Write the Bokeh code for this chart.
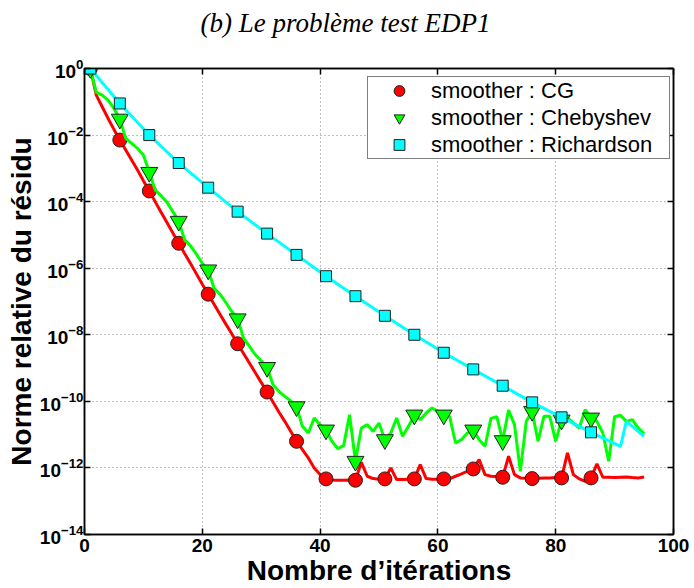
from bokeh.plotting import figure
from bokeh.models import (Range1d, FixedTicker, LinearAxis, LogAxis, Legend,
                          LegendItem)
from bokeh.embed import file_html
from bokeh.resources import INLINE

# ---- data (residuals given as log10 values) ----
iterations = list(range(1, 96))

cg_log10 = [
    0.0, -0.8, -1.15, -1.5, -1.83, -2.15, -2.45, -2.75, -3.05, -3.37,
    -3.68, -4.0, -4.32, -4.63, -4.94, -5.25, -5.56, -5.86, -6.17, -6.48,
    -6.78, -7.08, -7.38, -7.68, -7.97, -8.27, -8.56, -8.85, -9.14, -9.43,
    -9.72, -10.02, -10.32, -10.6, -10.9, -11.2, -11.45, -11.7, -12.0, -12.2,
    -12.33, -12.36, -12.37, -12.37, -12.36, -12.37, -11.83, -12.25, -12.32, -12.34,
    -12.33, -12.0, -12.35, -12.35, -12.34, -12.33, -11.9, -12.32, -12.34, -12.34,
    -12.33, -12.32, -12.25, -12.18, -12.1, -12.03, -11.75, -12.2, -12.25, -12.26,
    -12.28, -11.65, -12.2, -12.3, -12.31, -12.32, -12.31, -12.3, -12.3, -12.29,
    -12.3, -11.55, -12.2, -12.33, -12.4, -12.3, -11.88, -12.28, -12.28, -12.29,
    -12.28, -12.27, -12.29, -12.3, -12.27,
]

cheb_log10 = [
    0.0, -0.72, -0.8, -0.95, -1.2, -1.52, -2.1, -2.25, -2.4, -2.6,
    -3.12, -3.65, -3.82, -4.02, -4.3, -4.59, -5.15, -5.33, -5.58, -5.85,
    -6.05, -6.6, -6.78, -7.03, -7.3, -7.52, -8.1, -8.35, -8.6, -8.78,
    -8.98, -9.5, -9.7, -9.85, -9.98, -10.16, -10.75, -10.95, -10.5, -10.7,
    -10.86, -11.2, -11.42, -11.33, -10.4, -11.8, -10.8, -10.7, -10.9, -10.65,
    -11.15, -10.95, -10.5, -11.05, -10.75, -10.41, -10.55, -10.35, -10.2, -10.3,
    -10.41, -10.46, -11.25, -11.15, -10.95, -10.86, -11.15, -11.35, -10.51, -10.46,
    -11.18, -10.26, -10.7, -12.1, -10.6, -10.3, -11.2, -10.45, -10.45, -11.2,
    -10.56, -10.5, -10.65, -10.8, -10.25, -10.5, -10.6, -10.95, -11.8, -10.46,
    -10.42, -10.6, -10.55, -10.8, -10.97,
]

rich_iters = [1, 6, 11, 16, 21, 26, 31, 36, 41, 46, 51, 56, 61, 66, 71, 76, 81, 86,
              91, 92, 95]
rich_log10 = [0.0, -1.05, -2.0, -2.84, -3.58, -4.3, -4.96, -5.6, -6.24, -6.84,
              -7.43, -8.0, -8.54, -9.04, -9.53, -10.03, -10.48, -10.93,
              -11.35, -10.6, -11.05]

marker_iters = [1, 6, 11, 16, 21, 26, 31, 36, 41, 46, 51, 56, 61, 66, 71, 76, 81, 86]

x_ticks = [0, 20, 40, 60, 80, 100]
y_tick_exps = [0, -2, -4, -6, -8, -10, -12, -14]

labels = ["smoother : CG", "smoother : Chebyshev", "smoother : Richardson"]
colors = ["#ff0000", "#00ff00", "#00ffff"]

# ---- build sources ----
cg_y = [10.0 ** e for e in cg_log10]
cheb_y = [10.0 ** e for e in cheb_log10]
rich_y = [10.0 ** e for e in rich_log10]

def pick(xs, ys, keep):
    pairs = [(x, y) for x, y in zip(xs, ys) if x in keep]
    return [a for a, _ in pairs], [b for _, b in pairs]

cg_mx, cg_my = pick(iterations, cg_y, marker_iters)
ch_mx, ch_my = pick(iterations, cheb_y, marker_iters)
ri_mx, ri_my = pick(rich_iters, rich_y, marker_iters)

y_ticks = [10.0 ** e for e in y_tick_exps]

p = figure(width=694, height=588, y_axis_type="log",
           x_range=Range1d(0, 100), y_range=Range1d(1e-14, 1.0),
           output_backend="svg", toolbar_location=None,
           min_border_left=84, min_border_right=21,
           min_border_top=68, min_border_bottom=51)

p.title.text = "(b) Le problème test EDP1"
p.title.text_font = "Liberation Serif"
p.title.text_font_style = "italic"
p.title.text_font_size = "27px"
p.title.text_color = "#000000"
p.title.align = "left"
p.title.offset = 116

p.outline_line_color = "#000000"
p.outline_line_width = 1.5
p.background_fill_color = "#ffffff"
p.border_fill_color = "#ffffff"

# grid
p.xgrid.ticker = FixedTicker(ticks=x_ticks)
p.ygrid.ticker = FixedTicker(ticks=y_ticks)
for g in (p.xgrid, p.ygrid):
    g.grid_line_color = "#808080"
    g.grid_line_dash = "1 3"
    g.grid_line_width = 1

# axes
xa = p.xaxis[0]
xa.ticker = FixedTicker(ticks=x_ticks)
ya = p.yaxis[0]
ya.ticker = FixedTicker(ticks=y_ticks, minor_ticks=[])
for ax in (xa, ya):
    ax.major_tick_in = 6
    ax.major_tick_out = 0
    ax.minor_tick_in = 0
    ax.minor_tick_out = 0
    ax.axis_line_color = "#000000"
    ax.axis_line_width = 1.5
    ax.major_tick_line_width = 1.5
    ax.major_label_text_font = "Liberation Sans"
    ax.major_label_text_font_style = "bold"
    ax.major_label_text_font_size = "19px"
    ax.major_label_text_color = "#000000"
    ax.axis_label_text_font = "Liberation Sans"
    ax.axis_label_text_font_style = "bold"
    ax.axis_label_text_color = "#000000"
xa.axis_label_text_font_size = "28px"
ya.axis_label_text_font_size = "28px"
xa.axis_label = "Nombre d’itérations"
ya.axis_label = "Norme relative du résidu"
xa.major_label_standoff = 4
xa.axis_label_standoff = 0
ya.major_label_standoff = 1
ya.axis_label_standoff = 0

top = LinearAxis(ticker=FixedTicker(ticks=x_ticks))
right = LogAxis(ticker=FixedTicker(ticks=y_ticks, minor_ticks=[]))
for ax in (top, right):
    ax.major_tick_in = 6
    ax.major_tick_out = 0
    ax.minor_tick_in = 0
    ax.minor_tick_out = 0
    ax.major_label_text_font_size = "6px"
    ax.major_label_text_color = None
    ax.major_label_standoff = 0
    ax.axis_line_color = "#000000"
    ax.axis_line_width = 1.5
    ax.major_tick_line_width = 1.5
p.add_layout(top, "above")
p.add_layout(right, "right")

# an invisible spacer axis above the frame that lifts the title
spacer = LinearAxis(ticker=FixedTicker(ticks=x_ticks))
spacer.axis_line_color = None
spacer.major_tick_line_color = None
spacer.minor_tick_line_color = None
spacer.major_label_text_color = None
spacer.major_label_text_font_size = "6px"
spacer.major_label_standoff = 0
spacer.major_tick_in = 0
spacer.major_tick_out = 26
spacer.minor_tick_in = 0
spacer.minor_tick_out = 0
p.add_layout(spacer, "above")

# series
p.line(iterations, cg_y, line_color=colors[0], line_width=3)
r_cg = p.scatter(cg_mx, cg_my, marker="circle", size=14, fill_color=colors[0],
                 line_color="#222222", line_width=1)
p.line(iterations, cheb_y, line_color=colors[1], line_width=3)
r_ch = p.scatter(ch_mx, ch_my, marker="inverted_triangle", size=17,
                 fill_color=colors[1], line_color="#222222", line_width=1)
p.line(rich_iters, rich_y, line_color=colors[2], line_width=3)
r_ri = p.scatter(ri_mx, ri_my, marker="square", size=11, fill_color=colors[2],
                 line_color="#222222", line_width=1)

legend = Legend(items=[LegendItem(label=labels[0], renderers=[r_cg]),
                       LegendItem(label=labels[1], renderers=[r_ch]),
                       LegendItem(label=labels[2], renderers=[r_ri])],
                location=(283, 375))
legend.label_text_font = "Liberation Sans"
legend.label_text_font_size = "22px"
legend.label_text_color = "#000000"
legend.glyph_width = 62
legend.glyph_height = 27
legend.label_height = 27
legend.label_width = 238
legend.spacing = 0
legend.padding = 0
legend.label_standoff = 1
legend.border_line_color = "#000000"
legend.border_line_width = 1.5
legend.background_fill_alpha = 1.0
legend.margin = 0
p.add_layout(legend)

open("out.html", "w").write(file_html(p, INLINE))
